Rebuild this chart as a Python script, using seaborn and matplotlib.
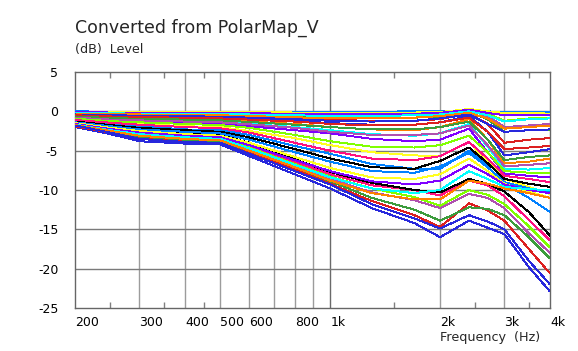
import numpy as np
import pandas as pd
import matplotlib
matplotlib.use("Agg")
import matplotlib.pyplot as plt
import seaborn as sns

# ---------------- data ----------------
freqs = [200, 250, 300, 400, 500, 600, 800, 1000, 1300, 1700, 2000, 2400, 2700, 3000, 3500, 4000]

angles = [-90, -85, -80, -75, -70, -65, -60, -55, -50, -45, -40, -35, -30, -25, -20, -15, -10, -5,
          0, 5, 10, 15, 20, 25, 30, 35, 40, 45, 50, 55, 60, 65, 70, 75, 80, 85, 90]

n90 = [-2.0, -2.9, -3.8, -4.1, -4.2, -5.7, -8.0, -9.8, -12.3, -14.2, -16.0, -13.9, -14.8, -15.6, -19.8, -22.9]
n85 = [-1.9, -2.7, -3.4, -3.8, -4.0, -5.2, -7.4, -9.2, -11.4, -13.2, -14.7, -11.7, -12.6, -13.9, -17.5, -20.6]
n80 = [-1.8, -2.5, -3.2, -3.6, -3.8, -5.0, -7.1, -8.9, -11.0, -12.5, -13.9, -12.2, -12.4, -13.2, -16.0, -18.7]
n75 = [-1.7, -2.4, -3.0, -3.4, -3.6, -4.7, -6.8, -8.6, -10.3, -11.3, -12.3, -10.5, -11.0, -12.3, -15.5, -18.0]
n70 = [-1.6, -2.2, -2.8, -3.2, -3.4, -4.5, -6.6, -8.3, -9.8, -10.9, -12.0, -10.0, -10.6, -11.8, -14.6, -17.3]
n65 = [-1.5, -2.1, -2.6, -3.0, -3.2, -4.3, -6.4, -8.0, -9.4, -10.0, -10.7, -8.8, -9.4, -10.8, -13.8, -16.4]
n60 = [-1.4, -2.0, -2.4, -2.8, -3.0, -4.0, -6.1, -7.7, -9.1, -10.0, -10.3, -8.6, -9.2, -10.2, -12.8, -15.8]
n55 = [-1.2, -1.6, -1.9, -2.3, -2.4, -3.0, -4.4, -5.4, -6.7, -7.3, -7.3, -5.0, -7.0, -9.2, -11.0, -12.8]
n50 = [-1.05, -1.4, -1.6, -1.9, -2.0, -2.5, -3.4, -4.3, -5.2, -5.6, -5.7, -3.9, -6.4, -8.6, -9.6, -10.5]
n45 = [-0.9, -1.2, -1.3, -1.5, -1.6, -1.9, -2.4, -2.8, -3.5, -3.8, -3.6, -2.2, -5.2, -7.9, -8.2, -8.4]
n40 = [-0.75, -1.0, -1.1, -1.25, -1.35, -1.6, -2.0, -2.4, -2.9, -3.1, -2.8, -1.6, -4.5, -7.3, -7.4, -7.2]
n35 = [-0.6, -0.8, -0.9, -1.0, -1.1, -1.3, -1.6, -2.0, -2.3, -2.4, -2.0, -1.0, -3.6, -6.6, -6.4, -6.0]
n30 = [-0.45, -0.6, -0.7, -0.8, -0.85, -0.95, -1.2, -1.5, -1.7, -1.7, -1.4, -0.6, -2.6, -5.6, -5.2, -4.8]
n25 = [-0.35, -0.45, -0.5, -0.6, -0.65, -0.7, -0.9, -1.1, -1.2, -1.2, -1.0, -0.3, -1.6, -4.0, -3.6, -3.4]
n20 = [-0.25, -0.3, -0.35, -0.4, -0.45, -0.5, -0.6, -0.8, -0.8, -0.8, -0.7, -0.1, -1.0, -2.6, -2.4, -2.4]
n15 = [-0.15, -0.2, -0.2, -0.25, -0.3, -0.3, -0.4, -0.5, -0.5, -0.5, -0.5, 0.1, -0.6, -2.0, -1.8, -1.6]
n10 = [-0.1, -0.1, -0.1, -0.15, -0.15, -0.15, -0.2, -0.3, -0.3, -0.3, -0.3, 0.3, -0.3, -1.2, -0.9, -0.8]
n05 = [-0.05, -0.05, -0.05, -0.05, -0.05, -0.05, -0.1, -0.1, -0.1, -0.1, -0.1, 0.2, -0.1, -0.4, -0.3, -0.3]
on_axis = [0.0, 0.0, 0.0, 0.0, 0.0, 0.0, 0.0, 0.0, 0.0, 0.0, 0.0, 0.0, 0.0, 0.0, 0.0, 0.0]
p05 = [0.0, -0.05, -0.05, -0.05, -0.05, -0.05, -0.05, -0.05, -0.05, 0.0, 0.0, 0.2, 0.0, -0.1, -0.1, -0.1]
p10 = [-0.05, -0.1, -0.1, -0.1, -0.1, -0.1, -0.15, -0.2, -0.2, -0.15, -0.1, 0.3, 0.0, -0.2, -0.2, -0.3]
p15 = [-0.1, -0.15, -0.15, -0.2, -0.2, -0.25, -0.3, -0.4, -0.4, -0.3, -0.2, 0.2, -0.2, -0.5, -0.5, -0.5]
p20 = [-0.2, -0.25, -0.3, -0.3, -0.35, -0.4, -0.5, -0.6, -0.6, -0.5, -0.4, 0.0, -0.5, -1.3, -1.0, -0.9]
p25 = [-0.3, -0.35, -0.4, -0.45, -0.5, -0.6, -0.75, -0.9, -0.9, -0.8, -0.6, -0.2, -0.9, -2.2, -2.0, -1.8]
p30 = [-0.4, -0.5, -0.55, -0.6, -0.7, -0.8, -1.0, -1.2, -1.3, -1.2, -0.9, -0.4, -1.6, -2.6, -2.4, -2.3]
p35 = [-0.5, -0.65, -0.75, -0.8, -0.9, -1.05, -1.3, -1.6, -1.8, -1.7, -1.4, -0.8, -2.6, -4.8, -4.6, -4.4]
p40 = [-0.65, -0.85, -0.95, -1.05, -1.15, -1.35, -1.7, -2.0, -2.3, -2.3, -2.0, -1.3, -3.6, -6.2, -5.8, -5.6]
p45 = [-0.8, -1.05, -1.15, -1.3, -1.4, -1.65, -2.1, -2.6, -3.0, -3.0, -2.8, -1.8, -4.3, -7.0, -6.8, -6.6]
p50 = [-0.95, -1.25, -1.4, -1.6, -1.75, -2.1, -3.0, -3.8, -4.5, -4.6, -4.3, -3.1, -5.2, -7.6, -7.8, -7.8]
p55 = [-1.1, -1.45, -1.7, -2.0, -2.15, -2.7, -4.0, -5.0, -6.0, -6.2, -5.7, -3.9, -6.0, -8.2, -8.6, -9.0]
p60 = [-1.3, -1.75, -2.1, -2.4, -2.6, -3.3, -4.8, -6.0, -7.1, -7.3, -6.3, -4.6, -6.6, -8.6, -9.2, -9.6]
p65 = [-1.4, -1.9, -2.3, -2.6, -2.8, -3.6, -5.2, -6.4, -7.6, -7.8, -7.0, -5.3, -7.1, -9.0, -9.8, -10.3]
p70 = [-1.5, -2.1, -2.5, -2.9, -3.1, -4.0, -5.8, -7.2, -8.4, -8.6, -8.0, -6.0, -7.6, -9.2, -10.2, -11.0]
p75 = [-1.6, -2.25, -2.7, -3.1, -3.3, -4.3, -6.2, -7.6, -8.9, -9.3, -8.8, -6.8, -8.0, -9.3, -10.0, -10.4]
p80 = [-1.7, -2.4, -2.9, -3.3, -3.5, -4.7, -6.8, -8.4, -9.8, -10.4, -10.0, -7.6, -8.6, -9.6, -9.9, -10.0]
p85 = [-1.75, -2.5, -3.1, -3.5, -3.7, -5.0, -7.1, -8.8, -10.4, -11.2, -11.2, -8.8, -9.2, -9.8, -10.4, -11.0]
p90 = [-1.8, -2.7, -3.5, -3.9, -4.0, -5.4, -7.6, -9.3, -11.8, -13.6, -14.9, -13.2, -14.0, -15.0, -19.0, -22.0]

series = [n90, n85, n80, n75, n70, n65, n60, n55, n50, n45, n40, n35, n30, n25, n20, n15, n10, n05,
          on_axis, p05, p10, p15, p20, p25, p30, p35, p40, p45, p50, p55, p60, p65, p70, p75, p80, p85, p90]

color_cycle = ["#2828DC", "#DC2020", "#3C9C3C", "#B050B0", "#80FF00", "#FF1080",
               "#000000", "#0080FF", "#FFFF20", "#8000FF", "#00FFFF", "#FF8000"]
on_axis_color = "#00FFFF"

x_tick_vals = [200, 300, 400, 500, 600, 700, 800, 900, 1000, 2000, 3000, 4000]
x_tick_labels = ["200", "300", "400", "500", "600", "", "800", "", "1k", "2k", "3k", "4k"]
x_minor_vals = [250, 350, 450, 1500, 2500, 3500]
y_tick_vals = [5, 0, -5, -10, -15, -20, -25]

# ---------------- frame ----------------
rows = []
for ang, vals in zip(angles, series):
    for f, v in zip(freqs, vals):
        rows.append({"angle": str(ang), "freq": f, "level": v})
df = pd.DataFrame(rows)
palette = {str(a): color_cycle[i % len(color_cycle)] for i, a in enumerate(angles)}
palette["0"] = on_axis_color

sns.set_theme(style="white")
plt.rcParams["font.family"] = ["DejaVu Sans"]
plt.rcParams["axes.unicode_minus"] = False

fig = plt.figure(figsize=(5.78, 3.51), dpi=100)
ax = fig.add_axes([75 / 578, 1 - 308 / 351, (550 - 75) / 578, (308 - 72) / 351])

sns.lineplot(data=df, x="freq", y="level", hue="angle", palette=palette,
             estimator=None, sort=False, legend=False, linewidth=0.7,
             antialiased=False, ax=ax, zorder=3)

ax.set_xscale("log")
ax.set_xlim(200, 4000)
ax.set_ylim(-25, 5)

# grid
for xv in x_tick_vals[1:-1]:
    ax.axvline(xv, color="#6a6a6a" if xv == 1000 else "#9c9c9c", lw=1.0, zorder=1)
for yv in y_tick_vals[1:-1]:
    ax.axhline(yv, color="#7a7a7a", lw=1.0, zorder=1)

ax.set_xticks(x_tick_vals)
ax.set_xticklabels(x_tick_labels)
ax.set_xticks(x_minor_vals, minor=True)
ax.set_xticklabels([], minor=True)
ax.tick_params(axis="x", which="major", length=0, pad=6, labelsize=9, colors="#000000")
ax.tick_params(axis="x", which="minor", length=4, direction="in", top=True, bottom=True,
               color="#808080", width=1)
for lab in ax.get_xticklabels():
    lab.set_horizontalalignment("left")

ax.set_yticks(y_tick_vals)
ax.set_yticklabels([str(v) for v in y_tick_vals])
ax.tick_params(axis="y", which="major", length=0, pad=12, labelsize=9, colors="#000000")

for sp in ax.spines.values():
    sp.set_visible(True)
    sp.set_color("#666666")
    sp.set_linewidth(1.0)

ax.set_xlabel("")
ax.set_ylabel("")

fig.text(75 / 578, 1 - 28 / 351, "Converted from PolarMap_V", fontsize=12.5, va="center", ha="left")
fig.text(75 / 578, 1 - 50 / 351, "(dB)  Level", fontsize=9.2, va="center", ha="left")
fig.text(440 / 578, 1 - 337 / 351, "Frequency  (Hz)", fontsize=9.2, va="center", ha="left")

fig.savefig("out.png", dpi=100)
